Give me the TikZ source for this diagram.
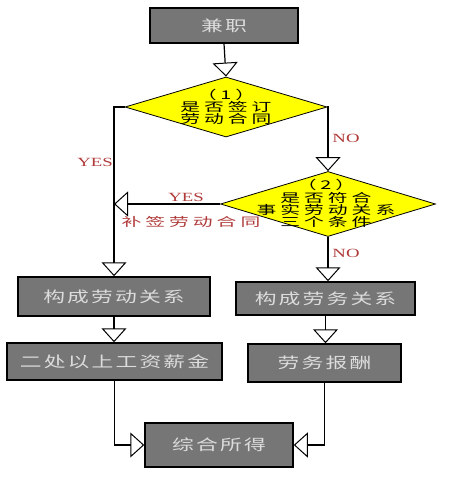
\documentclass[tikz,border=0pt]{standalone}
\usepackage{fontspec}
\usetikzlibrary{shapes.geometric,arrows.meta}
\newfontfamily\cjkbox[LetterSpace=10]{Noto Sans CJK SC}
\newfontfamily\cjkdia[LetterSpace=20]{Noto Sans CJK SC}
\newfontfamily\latred{Liberation Serif}
\newcommand\bsx[1]{\scalebox{1.45}[1]{#1}}
\newcommand\dsx[1]{\scalebox{1.65}[1]{#1}}
\newcommand\lsx[1]{\scalebox{1.5}[1]{#1}}
\definecolor{boxgray}{HTML}{767676}
\definecolor{boxtext}{HTML}{DCDCDC}
\definecolor{labred}{HTML}{B03A3A}
\definecolor{diayellow}{HTML}{FFFF00}
\begin{document}
\begin{tikzpicture}[x=1pt,y=-1pt,
  box/.style={draw=black, line width=1.5pt, fill=boxgray, text=boxtext,
    font=\cjkbox\fontsize{15}{15}\selectfont, inner sep=0pt},
  dia/.style={diamond, draw=black, line width=0.8pt, fill=diayellow, inner sep=0pt},
  diatext/.style={align=center, text=black, inner sep=0pt,
    font=\cjkdia\fontsize{12}{12.3}\selectfont},
  redlab/.style={text=labred, inner sep=0pt, font=\latred\fontsize{12.5}{12.5}\selectfont},
  redcjk/.style={text=labred, inner sep=0pt, font=\cjkdia\fontsize{12}{12}\selectfont},
  conn/.style={draw=black, line width=1.2pt},
  arr/.style={conn, -{Triangle[open,length=14pt,width=25pt,line width=1pt]}}
]
\useasboundingbox (0,0) rectangle (451,478);
\fill[white] (0,0) rectangle (451,478);

% boxes
\node[box, minimum width=148pt, minimum height=35pt] (top) at (224,25.5) {\bsx{兼职}};
\node[box, minimum width=192pt, minimum height=39pt] (b1) at (114,296.5) {\bsx{构成劳动关系}};
\node[box, minimum width=179pt, minimum height=33pt] (b3) at (325.5,298.5) {\bsx{构成劳务关系}};
\node[box, minimum width=215pt, minimum height=37pt] (b2) at (114.5,361.5) {\bsx{二处以上工资薪金}};
\node[box, minimum width=153pt, minimum height=38pt] (b4) at (324.5,363) {\bsx{劳务报酬}};
\node[box, minimum width=148pt, minimum height=44pt] (b5) at (219,445) {\bsx{综合所得}};

% diamonds
\node[dia, minimum width=202pt, minimum height=60pt] (d1) at (226,107) {};
\node[diatext, font=\cjkdia\fontsize{12}{11}\selectfont] (t1) at (d1.center)
  {\dsx{（1）}\\\dsx{是否签订}\\\dsx{劳动合同}};
\node[dia, minimum width=215pt, minimum height=65pt] (d2) at (328,204) {};
\node[diatext] (t2) at (326,203.5)
  {\dsx{（2）}\\\dsx{是否符合}\\\dsx{事实劳动关系}\\\dsx{三个条件}};

% connectors
\draw[arr] (top.south) -- (d1.north);
\draw[arr] (d1.west) -| (b1.north);
\draw[arr] (d1.east) -| (d2.north);
\draw[arr] (d2.west) -- (d2.west -| b1.north);
\draw[arr] (d2.south) -- (d2.south |- b3.north);
\draw[arr] (b1.south) -- (b1.south |- b2.north);
\draw[arr] (b3.south) -- (b3.south |- b4.north);
\draw[arr] (b2.south) |- (b5.west);
\draw[arr] (b4.south) |- (b5.east);

% labels
\node[redlab] (yes1) at (95,162) {\lsx{YES}};
\node[redlab] (no1) at (346,138) {\lsx{NO}};
\node[redlab] (yes2) at (186,197) {\lsx{YES}};
\node[redcjk] (bq) at (191,222) {\dsx{补签劳动合同}};
\node[redlab] (no2) at (346,253) {\lsx{NO}};
\end{tikzpicture}
\end{document}
